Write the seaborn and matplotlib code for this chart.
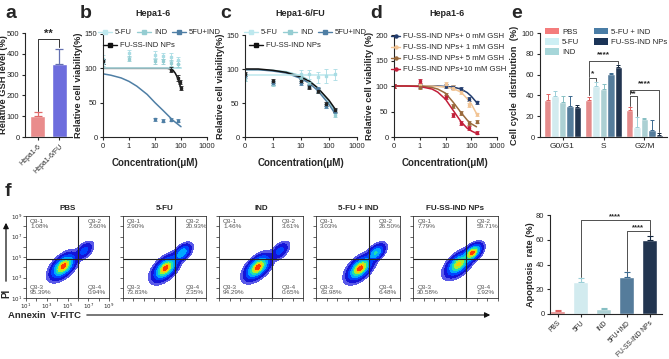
import numpy as np
import pandas as pd
import matplotlib
matplotlib.use('Agg')
import matplotlib.pyplot as plt
import seaborn as sns
from matplotlib.lines import Line2D
from matplotlib.patches import Patch

# ------------------------------------------------------------------ data
gsh_cells = ['Hepa1-6', 'Hepa1-6/FU']
gsh_vals = [100, 350]
gsh_errs = [18, 75]

conc_ticks = [0.1, 1, 10, 100, 1000]
conc_ticklabels = ['0', '1', '10', '100', '1000']

# panel b (Hepa1-6) fitted curves
b_flat_x = [0.1, 1, 10, 100]
b_fu5_curve = [100, 100, 100, 100]
b_ind_curve = [100, 100, 100, 100]
b_combo_x = [0.1, 0.2, 0.5, 1, 2, 5, 10, 20, 50, 100]
b_combo_curve = [92, 90, 86, 81, 74, 62, 50, 39, 24, 15]
b_fuss_x = [0.1, 1, 10, 30, 40, 50, 60, 70, 80, 90, 100]
b_fuss_curve = [100, 100, 100, 100, 99, 97, 93, 88, 82, 76, 70]
# panel b points
b_pts_x = [0.1, 1, 10, 20, 40, 80]
b_fu5_pts = [113, 122, 120, 118, 116, 112]
b_fu5_err = [6, 5, 5, 5, 6, 5]
b_ind_pts = [108, 114, 110, 110, 108, 106]
b_ind_err = [4, 4, 4, 4, 4, 4]
b_combo_px = [0.1, 10, 20, 40, 80]
b_combo_pts = [110, 26, 24, 25, 24]
b_combo_err = [3, 2, 2, 2, 2]
b_fuss_px = [0.1, 40, 80, 90, 100]
b_fuss_pts = [110, 98, 86, 80, 72]
b_fuss_err = [3, 4, 4, 3, 3]

# panel c (Hepa1-6/FU)
c_curve_x = [0.1, 0.3, 1, 3, 10, 20, 40, 70, 100, 160]
c_fu5_curve = [91, 91, 91, 91, 91, 91, 91, 91, 91, 91]
c_ind_curve = [99, 99, 98, 96, 90, 83, 72, 60, 52, 38]
c_combo_curve = [99, 99, 97, 94, 86, 79, 68, 56, 48, 35]
c_fuss_curve = [100, 100, 98, 95, 88, 82, 72, 61, 54, 42]
c_pts_x = [0.1, 1, 10, 20, 40, 80, 160]
c_fu5_pts = [88, 80, 92, 92, 88, 90, 92]
c_fu5_err = [6, 4, 6, 6, 8, 10, 8]
c_ind_pts = [86, 78, 85, 78, 68, 45, 32]
c_combo_pts = [90, 80, 80, 75, 70, 46, 38]
c_fuss_pts = [92, 82, 82, 74, 68, 48, 40]
c_err = [3, 3, 3, 3, 4, 3, 3]

# panel d (GSH response)
d_labels = ['FU-SS-IND NPs+ 0 mM GSH', 'FU-SS-IND NPs+ 1 mM GSH',
            'FU-SS-IND NPs+ 5 mM GSH', 'FU-SS-IND NPs+10 mM GSH']
d_curve_x = [0.1, 0.3, 1, 3, 5, 10, 20, 40, 70, 100, 160]
d_curves = [
    [100, 100, 100, 100, 100, 99, 98, 94, 87, 80, 68],
    [100, 100, 100, 100, 99, 98, 95, 88, 75, 65, 46],
    [100, 100, 100, 97, 94, 86, 68, 48, 33, 26, 20],
    [100, 100, 99, 94, 88, 74, 52, 30, 17, 12, 7],
]
d_pts_x = [0.1, 1, 10, 20, 40, 80, 160]
d_pts = [
    [100, 100, 100, 98, 94, 75, 68],
    [100, 102, 104, 97, 88, 62, 45],
    [100, 98, 82, 60, 47, 28, 30],
    [100, 110, 78, 43, 28, 18, 8],
]
d_err = [3, 4, 4, 4, 4, 4, 3]

# panel e (cell cycle)
groups = ['PBS', '5-FU', 'IND', '5-FU + IND', 'FU-SS-IND NPs']
phases = ['G0/G1', 'S', 'G2/M']
cc_vals = {
    'PBS': [36, 36, 26],
    '5-FU': [39, 49, 10],
    'IND': [34, 46, 17],
    '5-FU + IND': [30, 61, 7],
    'FU-SS-IND NPs': [29, 67, 2],
}
cc_errs = {
    'PBS': [5, 2, 3],
    '5-FU': [5, 4, 9],
    'IND': [5, 5, 1],
    '5-FU + IND': [9, 1, 9],
    'FU-SS-IND NPs': [2, 2, 2],
}

# panel f flow cytometry
flow_titles = ['PBS', '5-FU', 'IND', '5-FU + IND', 'FU-SS-IND NPs']
flow_q1 = ['1.08%', '2.90%', '1.46%', '3.03%', '7.79%']
flow_q2 = ['2.60%', '20.93%', '3.61%', '26.50%', '59.71%']
flow_q3 = ['95.39%', '73.83%', '94.29%', '63.98%', '30.58%']
flow_q4 = ['0.94%', '2.35%', '0.65%', '6.48%', '1.92%']
flow_main_centers = [(4.6, 4.1), (5.1, 3.9), (4.7, 4.0), (5.2, 3.9), (5.3, 4.3)]
flow_main_weights = [1.0, 1.0, 1.0, 1.0, 0.7]
flow_side_centers = [(6.6, 5.6), (6.7, 5.4), (6.8, 5.6), (6.7, 5.4), (6.6, 5.4)]
flow_side_weights = [0.12, 0.35, 0.12, 0.4, 0.85]
flow_log_ticks = [1, 3, 5, 7, 9]
flow_gate_x = 6.0
flow_gate_y = 4.8

apo_groups = ['PBS', '5FU', 'IND', '5FU+IND', 'FU-SS-IND NPs']
apo_vals = [2.5, 26, 4, 30, 60]
apo_errs = [1.0, 3, 0.6, 4, 3]

# ------------------------------------------------------------------ style
sns.set_theme(style='ticks')
plt.rcParams['font.family'] = ['Liberation Sans', 'DejaVu Sans']
plt.rcParams['axes.linewidth'] = 0.8
plt.rcParams['xtick.major.width'] = 0.8
plt.rcParams['ytick.major.width'] = 0.8

col_pbs = '#F47C7C'
col_fu5 = '#CDEFF4'
col_ind = '#A6D6D9'
col_combo = '#4A7DA6'
col_fuss = '#1B3457'
bar_cols = [col_pbs, col_fu5, col_ind, col_combo, col_fuss]
err_cols = ['#E06060', '#9CCFD8', '#86BFC3', '#3C6A8F', '#14273F']

line_fu5 = '#BDE8EE'
line_ind = '#95CDD2'
line_combo = '#4F7FA5'
line_fuss = '#111111'
d_cols = ['#223C6E', '#F2C494', '#9A6A3C', '#C21F3A']

LAB = 6.7
TICK = 5.5

W, H = 669, 359
fig = plt.figure(figsize=(W / 100, H / 100), dpi=100)


def add_ax(l, t, r, b):
    return fig.add_axes([l / W, 1 - b / H, (r - l) / W, (b - t) / H])


def fx(x):
    return x / W


def fy(y):
    return 1 - y / H


def style_ax(ax, lab=TICK):
    ax.tick_params(labelsize=lab, length=2.5, width=0.8, pad=1.5)
    sns.despine(ax=ax)


def letter(x, y, s):
    fig.text(fx(x), fy(y), s, fontsize=14, fontweight='bold', ha='left', va='center')


# ------------------------------------------------------------------ panel a
ax = add_ax(25, 33, 72, 137)
df_a = pd.DataFrame({'cell': gsh_cells, 'val': gsh_vals})
sns.barplot(data=df_a, x='cell', y='val', hue='cell', palette=['#F87D7D', '#5A5AF0'],
            legend=False, errorbar=None, width=0.7, ax=ax)
for i, (v, e) in enumerate(zip(gsh_vals, gsh_errs)):
    ax.errorbar(i, v, yerr=[[0], [e]], color=['#E06A6A', '#6470B0'][i], capsize=3, lw=0.9, capthick=0.9)
ax.plot([0, 0, 1, 1], [125, 470, 470, 435], color='#333333', lw=0.7)
ax.text(0.5, 472, '**', ha='center', va='bottom', fontsize=8, fontweight='bold')
ax.set_ylim(0, 500)
ax.set_xlim(-0.6, 1.6)
ax.set_yticks([0, 100, 200, 300, 400, 500])
ax.set_xlabel('')
ax.set_ylabel('Relative GSH level (%)', fontsize=LAB, fontweight='bold')
style_ax(ax)
ax.yaxis.set_label_coords(-(25 - 8) / 47, 0.5)
ax.set_xticks([0, 1])
ax.set_xticklabels(gsh_cells, rotation=45, ha='right', rotation_mode='anchor', fontsize=5)
letter(5, 13, 'a')


def conc_axis(ax, ymax, yticks):
    ax.set_xscale('log')
    ax.set_xlim(0.1, 1000)
    ax.set_xticks(conc_ticks)
    ax.set_xticklabels(conc_ticklabels)
    ax.xaxis.set_minor_locator(matplotlib.ticker.NullLocator())
    ax.set_ylim(0, ymax)
    ax.set_yticks(yticks)
    ax.set_xlabel('Concentration(μM)', fontsize=7, fontweight='bold', labelpad=6)
    style_ax(ax)


def pts(ax, x, y, e, c, m='s'):
    ax.errorbar(x, y, yerr=e, fmt=m, ms=2.0, color=c, ecolor=c, capsize=1.2, lw=0.6, capthick=0.6)


# ------------------------------------------------------------------ panel b
ax = add_ax(103, 34, 207, 137)
sns.lineplot(x=b_flat_x, y=b_ind_curve, color=line_ind, lw=1.1, ax=ax)
sns.lineplot(x=b_combo_x, y=b_combo_curve, color=line_combo, lw=1.1, ax=ax)
sns.lineplot(x=b_fuss_x, y=b_fuss_curve, color=line_fuss, lw=1.1, ax=ax)
sns.lineplot(x=b_flat_x, y=b_fu5_curve, color=line_fu5, lw=1.1, ax=ax)
pts(ax, b_pts_x, b_fu5_pts, b_fu5_err, '#A9DCE4')
pts(ax, b_pts_x, b_ind_pts, b_ind_err, line_ind)
pts(ax, b_combo_px, b_combo_pts, b_combo_err, line_combo)
pts(ax, b_fuss_px, b_fuss_pts, b_fuss_err, '#222222')
conc_axis(ax, 150, [0, 50, 100, 150])
ax.set_ylabel('Relative cell viability(%)', fontsize=LAB, fontweight='bold', labelpad=1)
fig.text(fx(153), fy(14), 'Hepa1-6', ha='center', va='center', fontsize=6.5, fontweight='bold')
letter(80, 13, 'b')


def two_row_legend(ax, x0, y0, sep_labels):
    hs = [Line2D([], [], color=c, marker='s', ms=2.2, lw=1) for c in (line_fu5, line_ind, line_combo)]
    l1 = ax.legend(hs, sep_labels, ncol=3, loc='upper left', bbox_to_anchor=(fx(x0), fy(y0)),
                   bbox_transform=fig.transFigure, frameon=False, fontsize=5.5, handlelength=1.8,
                   handletextpad=0.4, columnspacing=0.7, borderaxespad=0, borderpad=0)
    ax.add_artist(l1)
    h2 = [Line2D([], [], color=line_fuss, marker='s', ms=2.2, lw=1)]
    ax.legend(h2, ['FU-SS-IND NPs'], loc='upper left', bbox_to_anchor=(fx(x0 + 5), fy(y0 + 13)),
              bbox_transform=fig.transFigure, frameon=False, fontsize=5.5, handlelength=1.8,
              handletextpad=0.4, borderaxespad=0, borderpad=0)


two_row_legend(ax, 98, 29, ['5-FU', 'IND', '5FU+IND'])

# ------------------------------------------------------------------ panel c
ax = add_ax(245, 35, 357, 137)
sns.lineplot(x=c_curve_x, y=c_ind_curve, color=line_ind, lw=1.1, ax=ax)
sns.lineplot(x=c_curve_x, y=c_combo_curve, color=line_combo, lw=1.1, ax=ax)
sns.lineplot(x=c_curve_x, y=c_fuss_curve, color=line_fuss, lw=1.1, ax=ax)
sns.lineplot(x=c_curve_x, y=c_fu5_curve, color=line_fu5, lw=1.1, ax=ax)
pts(ax, c_pts_x, c_fu5_pts, c_fu5_err, '#A9DCE4')
pts(ax, c_pts_x, c_ind_pts, c_err, line_ind)
pts(ax, c_pts_x, c_combo_pts, c_err, line_combo)
pts(ax, c_pts_x, c_fuss_pts, c_err, '#222222')
conc_axis(ax, 150, [0, 50, 100, 150])
ax.set_ylabel('Relative cell viability(%)', fontsize=LAB, fontweight='bold', labelpad=1)
fig.text(fx(300), fy(14), 'Hepa1-6/FU', ha='center', va='center', fontsize=6.5, fontweight='bold')
letter(220, 13, 'c')
two_row_legend(ax, 244, 29, ['5-FU', 'IND', '5FU+IND'])

# ------------------------------------------------------------------ panel d
ax = add_ax(394, 35, 497, 137)
for cv, pv, c in zip(d_curves, d_pts, d_cols):
    sns.lineplot(x=d_curve_x, y=cv, color=c, lw=1.1, ax=ax)
    pts(ax, d_pts_x, pv, d_err, c)
conc_axis(ax, 200, [0, 50, 100, 150, 200])
ax.set_ylabel('Relative cell viability (%)', fontsize=LAB, fontweight='bold', labelpad=1)
fig.text(fx(447), fy(14), 'Hepa1-6', ha='center', va='center', fontsize=6.5, fontweight='bold')
letter(370, 13, 'd')
hs = [Line2D([], [], color=c, marker='o', ms=2.2, lw=1) for c in d_cols]
ax.legend(hs, d_labels, loc='upper left', bbox_to_anchor=(fx(391), fy(33)),
          bbox_transform=fig.transFigure, frameon=False, fontsize=5.6, handlelength=1.2,
          handletextpad=0.3, labelspacing=0.45, borderaxespad=0, borderpad=0)

# ------------------------------------------------------------------ panel e
ax = add_ax(540, 33, 667, 137)
rows = []
for g in groups:
    for p, v in zip(phases, cc_vals[g]):
        rows.append({'phase': p, 'group': g, 'val': v})
df_e = pd.DataFrame(rows)
sns.barplot(data=df_e, x='phase', y='val', hue='group', order=phases, hue_order=groups,
            palette=bar_cols, errorbar=None, width=0.9, legend=False, ax=ax)
centers = {}
for gi, (g, cont) in enumerate(zip(groups, ax.containers)):
    for pi, bar in enumerate(cont):
        xc = bar.get_x() + bar.get_width() / 2
        centers[(g, pi)] = xc
        ax.errorbar(xc, cc_vals[g][pi], yerr=[[0], [cc_errs[g][pi]]], color=err_cols[gi],
                    capsize=1.5, lw=0.7, capthick=0.7)


def bracket(ax, x1, x2, y1, y2, top, txt, fs=6, dy=1):
    ax.plot([x1, x1, x2, x2], [y1, top, top, y2], color='#333333', lw=0.6)
    ax.text((x1 + x2) / 2, top + dy, txt, ha='center', va='bottom', fontsize=fs, fontweight='bold')


bracket(ax, centers[('PBS', 1)], centers[('5-FU', 1)], 40, 54, 57, '*', dy=0)
bracket(ax, centers[('PBS', 1)], centers[('FU-SS-IND NPs', 1)], 58, 70, 73, '****', dy=3)
bracket(ax, centers[('PBS', 2)], centers[('5-FU', 2)], 30, 20, 39, '**', dy=-1)
bracket(ax, centers[('PBS', 2)], centers[('FU-SS-IND NPs', 2)], 41, 5, 45, '****', dy=3)
ax.set_xlim(-0.55, 2.55)
ax.set_ylim(0, 100)
ax.set_yticks([0, 20, 40, 60, 80, 100])
ax.set_xlabel('')
ax.set_ylabel('Cell cycle  distribution  (%)', fontsize=LAB, fontweight='bold', labelpad=2)
style_ax(ax)
ax.tick_params(axis='x', labelsize=6)
letter(511, 13, 'e')
ph = [Patch(facecolor=c, edgecolor='none') for c in bar_cols]
l1 = ax.legend(ph[:3], groups[:3], loc='upper left', bbox_to_anchor=(fx(545), fy(28)),
               bbox_transform=fig.transFigure, frameon=False, fontsize=5.6, handlelength=1.8,
               handleheight=0.9, handletextpad=0.4, labelspacing=0.3, borderaxespad=0, borderpad=0)
ax.add_artist(l1)
ax.legend(ph[3:], groups[3:], loc='upper left', bbox_to_anchor=(fx(594), fy(28)),
          bbox_transform=fig.transFigure, frameon=False, fontsize=5.6, handlelength=1.8,
          handleheight=0.9, handletextpad=0.4, labelspacing=0.3, borderaxespad=0, borderpad=0)

# ------------------------------------------------------------------ panel f (flow)
flow_boxes = [(26, 109), (123, 206), (219, 303), (316, 400), (413, 498)]
gx = np.linspace(1, 9, 240)
GX, GY = np.meshgrid(gx, gx)
flow_levels = [0.004, 0.02, 0.08, 0.2, 0.38, 0.58, 0.76, 0.9, 1.01]
flow_colors = ['#5A5AE8', '#1414D8', '#0044FF', '#00A8FF', '#20E0B0', '#A8F030', '#FFC800', '#FF3A00']


def blob(cx, cy, su, sv):
    dx, dy = GX - cx, GY - cy
    u = (dx + dy) / np.sqrt(2)
    v = (dx - dy) / np.sqrt(2)
    return np.exp(-(u ** 2 / (2 * su ** 2) + v ** 2 / (2 * sv ** 2)))


for i, (l, r) in enumerate(flow_boxes):
    ax = add_ax(l, 216, r, 298)
    mc = flow_main_centers[i]
    sc = flow_side_centers[i]
    dens = flow_main_weights[i] * blob(mc[0], mc[1], 0.62, 0.33) + \
        flow_side_weights[i] * blob(sc[0], sc[1], 0.45, 0.25)
    dens = dens / dens.max()
    ax.contourf(GX, GY, dens, levels=flow_levels, colors=flow_colors)
    ax.axvline(flow_gate_x, color='#222222', lw=0.8)
    ax.axhline(flow_gate_y, color='#222222', lw=0.8)
    ax.set_xlim(1, 9)
    ax.set_ylim(1, 9)
    for sp in ax.spines.values():
        sp.set_visible(True)
        sp.set_linewidth(0.6)
        sp.set_color('#333333')
    ax.set_xticks(flow_log_ticks)
    ax.set_yticks(flow_log_ticks)
    ax.set_xticks([2, 4, 6, 8], minor=True)
    ax.set_yticks([2, 4, 6, 8], minor=True)
    ax.tick_params(which='both', direction='out', length=2, width=0.5, pad=0.5, labelsize=4)
    if i == 0:
        labs = ['$10^{%d}$' % t for t in flow_log_ticks]
        ax.set_xticklabels(labs)
        ax.set_yticklabels(labs)
    else:
        ax.set_xticklabels([])
        ax.set_yticklabels([])
    tc = '#555555'
    ax.text(1.4, 8.7, 'Q3-1\n' + flow_q1[i], fontsize=4.6, color=tc, va='top', ha='left', linespacing=1.1)
    ax.text(7.0, 8.7, 'Q3-2\n' + flow_q2[i], fontsize=4.6, color=tc, va='top', ha='left', linespacing=1.1)
    ax.text(1.4, 1.3, 'Q3-3\n' + flow_q3[i], fontsize=4.6, color=tc, va='bottom', ha='left', linespacing=1.1)
    ax.text(7.0, 1.3, 'Q3-4\n' + flow_q4[i], fontsize=4.6, color=tc, va='bottom', ha='left', linespacing=1.1)
    fig.text(fx((l + r) / 2), fy(209), flow_titles[i], ha='center', va='center', fontsize=5.8, fontweight='bold')

letter(5, 191, 'f')
# PI arrow
fig.add_artist(matplotlib.patches.FancyArrowPatch((fx(6), fy(284)), (fx(6), fy(220)),
                                                  transform=fig.transFigure, arrowstyle='-|>',
                                                  mutation_scale=8, lw=0.9, color='#111111'))
fig.text(fx(6), fy(293), 'PI', rotation=90, ha='center', va='center', fontsize=7, fontweight='bold')
fig.text(fx(8), fy(315), 'Annexin  V-FITC', ha='left', va='center', fontsize=6.8, fontweight='bold')
fig.add_artist(matplotlib.patches.FancyArrowPatch((fx(84), fy(315)), (fx(493), fy(315)),
                                                  transform=fig.transFigure, arrowstyle='-|>',
                                                  mutation_scale=8, lw=0.8, color='#111111'))

# ------------------------------------------------------------------ apoptosis bars
ax = add_ax(550, 215, 662, 314)
df_f = pd.DataFrame({'grp': apo_groups, 'val': apo_vals})
sns.barplot(data=df_f, x='grp', y='val', hue='grp', palette=bar_cols, legend=False,
            errorbar=None, width=0.65, ax=ax)
for i, (v, e) in enumerate(zip(apo_vals, apo_errs)):
    ax.errorbar(i, v, yerr=[[0], [e]], color=err_cols[i], capsize=2, lw=0.8, capthick=0.8)
bracket(ax, 1, 4, 30, 64, 76, '****', fs=5.5, dy=0)
bracket(ax, 3, 4, 35, 64, 67, '****', fs=5.5, dy=0)
ax.set_xlim(-0.33, 4.54)
ax.set_ylim(0, 80)
ax.set_yticks([0, 20, 40, 60, 80])
ax.set_xlabel('')
ax.set_ylabel('Apoptosis  rate (%)', fontsize=LAB, fontweight='bold', labelpad=1)
style_ax(ax)
ax.set_xticks(range(5))
ax.set_xticklabels(apo_groups, rotation=45, ha='right', rotation_mode='anchor', fontsize=4.8)

fig.savefig('out.png', dpi=100)
